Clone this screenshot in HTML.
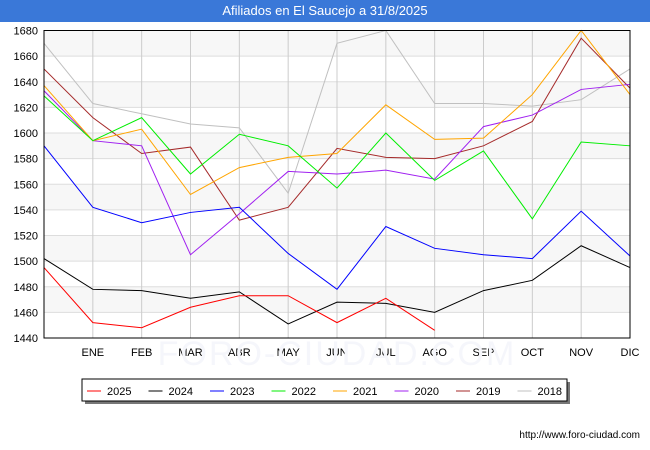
<!DOCTYPE html>
<html><head><meta charset="utf-8"><style>
body{margin:0;width:650px;height:450px;background:#fff;font-family:"Liberation Sans",sans-serif;overflow:hidden}
#title{position:absolute;left:0;top:0;width:650px;height:22px;background:#3a78d8;color:#fff;font-size:13px;line-height:22px;text-align:center}
svg{position:absolute;left:0;top:0}
text{font-family:"Liberation Sans",sans-serif;font-size:11px;fill:#000}
</style></head><body>
<div id="title">Afiliados en El Saucejo a 31/8/2025</div>
<svg id="c" width="650" height="450"></svg>
<script>
const months=["","ENE","FEB","MAR","ABR","MAY","JUN","JUL","AGO","SEP","OCT","NOV","DIC"];
const yTicks=[1440,1460,1480,1500,1520,1540,1560,1580,1600,1620,1640,1660,1680];
const seriesNames=["2025","2024","2023","2022","2021","2020","2019","2018"];
const seriesColors=["#ff0000","#000000","#0000ff","#00ee00","#ffa500","#a020f0","#a52a2a","#c0c0c0"];
const s2025=[1495,1452,1448,1464,1473,1473,1452,1471,1446];
const s2024=[1502,1478,1477,1471,1476,1451,1468,1467,1460,1477,1485,1512,1495];
const s2023=[1590,1542,1530,1538,1542,1506,1478,1527,1510,1505,1502,1539,1504];
const s2022=[1629,1594,1612,1568,1599,1590,1557,1600,1563,1586,1533,1593,1590];
const s2021=[1637,1594,1603,1552,1573,1581,1584,1622,1595,1596,1630,1680,1630];
const s2020=[1633,1594,1590,1505,1537,1570,1568,1571,1564,1605,1614,1634,1638];
const s2019=[1650,1612,1584,1589,1532,1542,1588,1581,1580,1590,1609,1674,1635];
const s2018=[1670,1623,1615,1607,1604,1553,1670,1680,1623,1623,1621,1626,1650];
const seriesData=[s2025,s2024,s2023,s2022,s2021,s2020,s2019,s2018];
const X0=44,X1=630,Y0=338,Y1=30.5,VMIN=1440,VMAX=1680;
const xs=i=>X0+i*(X1-X0)/12;
const ys=v=>Y0-(v-VMIN)*(Y0-Y1)/(VMAX-VMIN);
const svg=document.getElementById('c');const NS='http://www.w3.org/2000/svg';
function mk(t,a,p){const e=document.createElementNS(NS,t);for(const k in a)e.setAttribute(k,a[k]);(p||svg).appendChild(e);return e;}
for(let i=0;i<yTicks.length-1;i++){if(i%2==1){const r=mk('rect',{x:X0,y:ys(yTicks[i+1]),width:X1-X0,height:ys(yTicks[i])-ys(yTicks[i+1]),fill:'#f7f7f7'});

}}
yTicks.forEach(v=>{const l=mk('line',{x1:X0,x2:X1,y1:ys(v),y2:ys(v),stroke:'#ddd'});


const t=mk('text',{x:38,y:ys(v)+4,'text-anchor':'end'});t.textContent=v;

});
months.forEach((m,i)=>{if(i>0){const l=mk('line',{x1:xs(i),x2:xs(i),y1:Y1,y2:Y0,stroke:'#ccc'});


const t=mk('text',{x:xs(i),y:356,'text-anchor':'middle'});t.textContent=m;

}});
const wm=mk('text',{x:337,y:365,'text-anchor':'middle',style:'font-size:34px;fill:#f5f6fb;letter-spacing:2px'});wm.textContent='FORO-CIUDAD.COM';


for(let k=seriesData.length-1;k>=0;k--){const d=seriesData[k];
const p=mk('polyline',{points:d.map((v,i)=>xs(i)+','+ys(v)).join(' '),fill:'none',stroke:seriesColors[k],'stroke-width':1});

}
const fr=mk('rect',{x:X0,y:Y1,width:X1-X0,height:Y0-Y1,fill:'none',stroke:'#000'});


mk('rect',{x:85,y:382,width:485,height:22,fill:'#777'});
const lg=mk('rect',{x:82,y:379,width:485,height:22,fill:'#fff',stroke:'#000'});


seriesNames.forEach((n,k)=>{const x=87+k*61.5;
const l=mk('line',{x1:x,x2:x+14,y1:391,y2:391,stroke:seriesColors[k]});


const t=mk('text',{x:x+20,y:395});t.textContent=n;

});
const u=mk('text',{x:640,y:438,'text-anchor':'end',style:'font-size:10px'});u.textContent='http://www.foro-ciudad.com';


</script>
</body></html>
